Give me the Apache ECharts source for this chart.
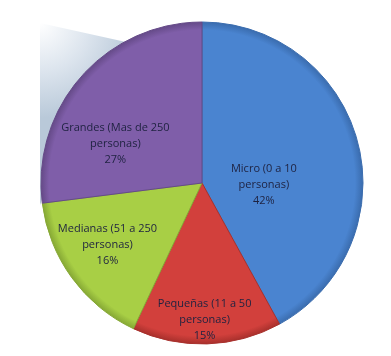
<!DOCTYPE html>
<html>
<head>
<meta charset="utf-8">
<script src="https://cdn.jsdelivr.net/npm/echarts@6/dist/echarts.min.js"></script>
<style>html,body{margin:0;padding:0;background:#fff}#c{width:391px;height:356px}</style>
</head>
<body>
<div id="c"></div>
<script>
const categories = ['Micro (0 a 10\npersonas)', 'Pequeñas (11 a 50\npersonas)', 'Medianas (51 a 250\npersonas)', 'Grandes (Mas de 250\npersonas)'];
const values = [42, 15, 16, 27];
const colors = ['#4a84d0', '#d2403c', '#a8cf45', '#7f5ea9'];
const borders = ['#3a6cae', '#a8302c', '#86a835', '#654a88'];

const labelOffsets = [[-19, 23], [0, 53], [-27, 13], [-24, 16]];

const chart = echarts.init(document.getElementById('c'), null, {renderer: 'canvas'});
chart.setOption({
  animation: false,
  graphic: [{
    type: 'polygon', z: -10,
    shape: {points: [[40, 23], [135, 44], [75, 110], [40, 205]]},
    style: {
      fill: new echarts.graphic.RadialGradient(0, 0, 1, [
        {offset: 0, color: '#ffffff'},
        {offset: 0.5, color: '#dde5ee'},
        {offset: 1, color: '#b9c9d9'}
      ])
    }
  }],
  series: [{
    type: 'pie',
    center: [202, 183],
    radius: 161,
    startAngle: 90,
    clockwise: true,
    data: values.map((v, i) => ({
      name: categories[i], value: v,
      itemStyle: {
        color: new echarts.graphic.RadialGradient(202, 183, 161, [
          {offset: 0, color: colors[i]},
          {offset: 0.95, color: colors[i]},
          {offset: 1, color: borders[i]}
        ], true),
        borderColor: borders[i], borderWidth: 1
      }
    })),
    label: {
      show: true,
      position: 'inside',
      formatter: p => p.name + '\n' + p.value + '%',
      fontFamily: 'Open Sans',
      fontSize: 11,
      lineHeight: 16,
      color: '#1e2240',
      align: 'center',
      verticalAlign: 'middle'
    },
    labelLayout: function (p) {
      const o = labelOffsets[p.dataIndex];
      return {dx: o[0], dy: o[1]};
    },
    labelLine: {show: false},
    emphasis: {disabled: true}
  }]
});
</script>
</body>
</html>
